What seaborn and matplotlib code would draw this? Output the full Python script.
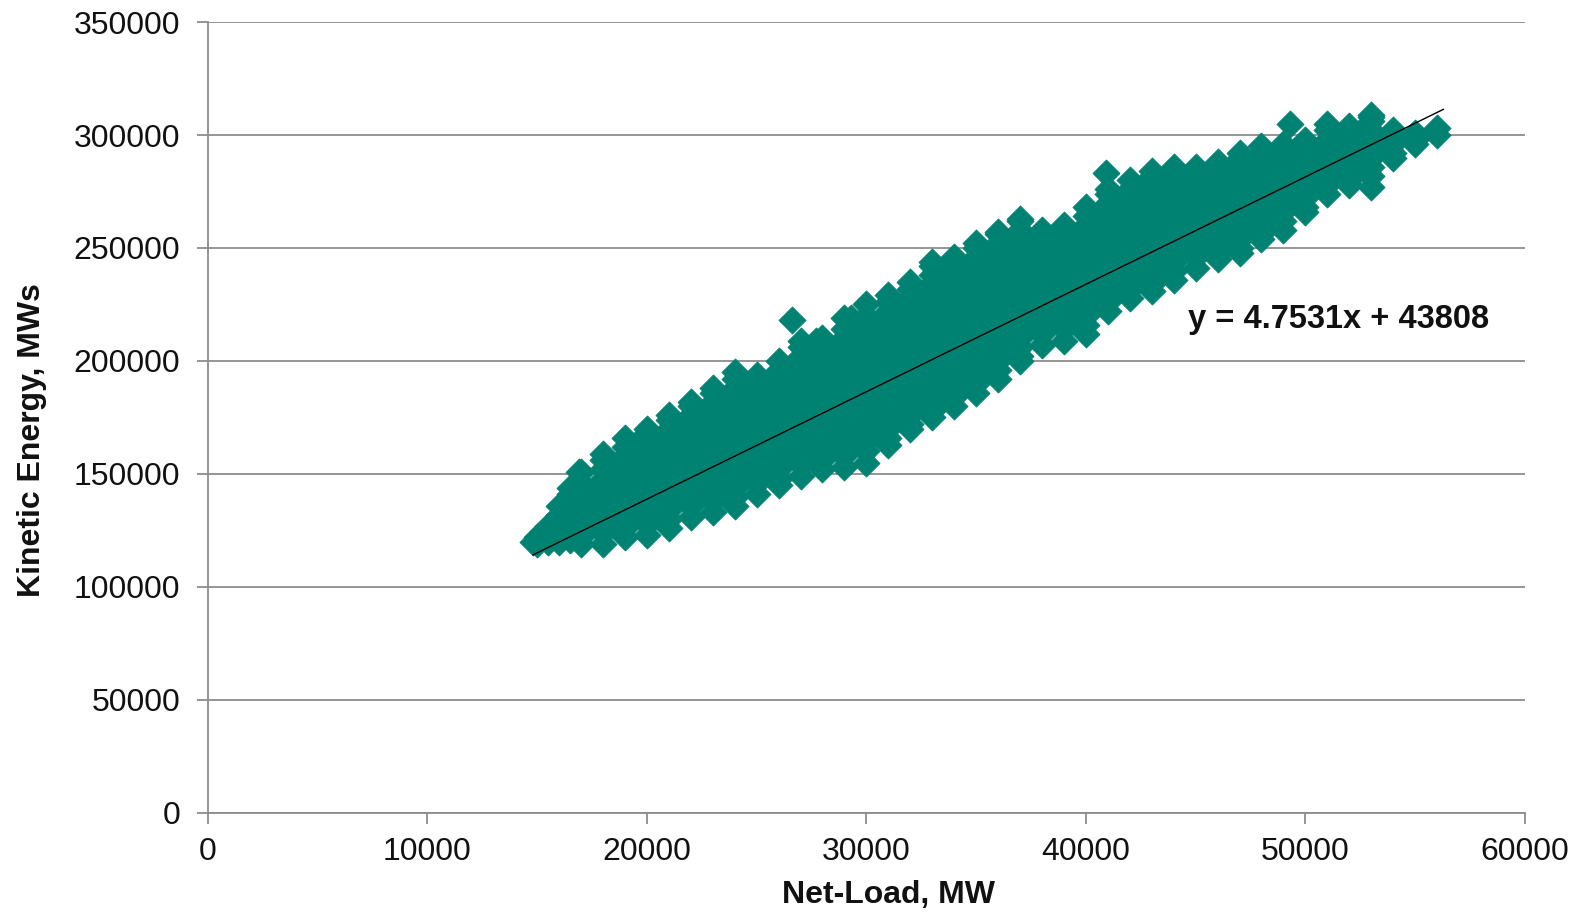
import matplotlib
matplotlib.use("Agg")
import matplotlib.pyplot as plt
import seaborn as sns
import pandas as pd

# ---- data ----
# Net-load columns (MW) and the kinetic-energy values (thousands of MWs) seen in each column
net_load_cols = [14800, 15000, 15500, 16000, 16500, 17000, 18000, 19000, 20000, 21000, 22000, 23000,
                 24000, 25000, 26000, 27000, 28000, 29000, 30000, 31000, 32000, 33000,
                 34000, 35000, 36000, 37000, 38000, 39000, 40000, 41000, 42000, 43000,
                 44000, 45000, 46000, 47000, 48000, 49000, 50000, 51000, 52000, 53000,
                 54000, 55000, 56000]
kinetic_cols_k = [
    [120],
    [119, 122],
    [120, 124, 127],
    [120, 124, 128, 132, 136],
    [121, 125, 129, 133, 137, 141, 144],
    [119, 122, 126, 130, 134, 138, 142, 146, 151],
    [119, 124, 128, 132, 136, 140, 144, 148, 152, 156, 159],
    [122, 126, 130, 134, 138, 142, 146, 150, 154, 158, 162, 166],
    [123, 128, 132, 136, 140, 144, 148, 152, 156, 160, 164, 168, 170],
    [126, 130, 134, 138, 142, 146, 150, 154, 158, 162, 166, 170, 174, 176],
    [131, 136, 140, 144, 148, 152, 156, 160, 164, 168, 172, 176, 180, 182],
    [133, 138, 142, 146, 150, 154, 158, 162, 166, 170, 174, 178, 182, 186, 188],
    [136, 140, 144, 148, 152, 156, 160, 164, 168, 172, 176, 180, 184, 188, 192, 195],
    [141, 146, 150, 154, 158, 162, 166, 170, 174, 178, 182, 186, 190, 194],
    [145, 148, 152, 156, 160, 164, 168, 172, 176, 180, 184, 188, 192, 196, 200],
    [149, 154, 158, 162, 166, 170, 174, 178, 182, 186, 190, 194, 198, 202, 206, 209],
    [152, 156, 160, 164, 168, 172, 176, 180, 184, 188, 192, 196, 200, 204, 208, 210],
    [153, 158, 162, 166, 170, 174, 178, 182, 186, 190, 194, 198, 202, 206, 210, 214, 219],
    [155, 160, 164, 168, 172, 176, 180, 184, 188, 192, 196, 200, 204, 208, 212, 216, 220, 225],
    [163, 166, 170, 174, 178, 182, 186, 190, 194, 198, 202, 206, 210, 214, 218, 222, 226, 229],
    [170, 172, 176, 180, 184, 188, 192, 196, 200, 204, 208, 212, 216, 220, 224, 228, 232, 235],
    [175, 178, 182, 186, 190, 194, 198, 202, 206, 210, 214, 218, 222, 226, 230, 234, 238, 242, 244],
    [180, 184, 188, 192, 196, 200, 204, 208, 212, 216, 220, 224, 228, 232, 236, 240, 244, 246],
    [186, 190, 194, 198, 202, 206, 210, 214, 218, 222, 226, 230, 234, 238, 242, 246, 250, 252],
    [192, 196, 200, 204, 208, 212, 216, 220, 224, 228, 232, 236, 240, 244, 248, 252, 256, 257],
    [200, 202, 206, 210, 214, 218, 222, 226, 230, 234, 238, 242, 246, 250, 254, 258, 262, 263],
    [207, 212, 216, 220, 224, 228, 232, 236, 240, 244, 248, 252, 256, 258],
    [209, 214, 218, 222, 226, 230, 234, 238, 242, 246, 250, 254, 258, 260],
    [212, 216, 220, 224, 228, 232, 236, 240, 244, 248, 252, 256, 260, 264, 268],
    [222, 226, 230, 234, 238, 242, 246, 250, 254, 258, 262, 266, 270, 274, 276],
    [228, 232, 236, 240, 244, 248, 252, 256, 260, 264, 268, 272, 276, 280],
    [231, 234, 238, 242, 246, 250, 254, 258, 262, 266, 270, 274, 278, 282, 284],
    [236, 240, 244, 248, 252, 256, 260, 264, 268, 272, 276, 280, 284, 286],
    [241, 246, 250, 254, 258, 262, 266, 270, 274, 278, 282, 286],
    [245, 248, 252, 256, 260, 264, 268, 272, 276, 280, 284, 288],
    [248, 250, 254, 258, 262, 266, 270, 274, 278, 282, 286, 290, 292],
    [254, 256, 260, 264, 268, 272, 276, 280, 284, 288, 292, 295],
    [258, 262, 266, 270, 274, 278, 282, 286, 290, 294, 296],
    [266, 268, 272, 276, 280, 284, 288, 292, 296, 298],
    [274, 278, 282, 286, 290, 294, 298, 302, 305],
    [278, 280, 284, 288, 292, 296, 300, 304],
    [277, 282, 286, 290, 294, 298, 302, 306, 308],
    [290, 292, 296, 300, 302],
    [296, 298, 301],
    [300, 303],
]
# isolated points standing out of the cloud
outlier_net_load = [16900, 26600, 27700, 29300, 40900, 49300, 53000]
outlier_kinetic_k = [151, 218, 209, 219, 283, 305, 309]

# trendline reported on the chart
trend_slope = 4.7531
trend_intercept = 43808
trend_label = "y = 4.7531x + 43808"

x_ticks = [0, 10000, 20000, 30000, 40000, 50000, 60000]
y_ticks = [0, 50000, 100000, 150000, 200000, 250000, 300000, 350000]
x_title = "Net-Load, MW"
y_title = "Kinetic Energy, MWs"

# ---- build table ----
rows = []
for xv, ys in zip(net_load_cols, kinetic_cols_k):
    for yv in ys:
        rows.append((xv, yv * 1000))
for xv, yv in zip(outlier_net_load, outlier_kinetic_k):
    rows.append((xv, yv * 1000))
df = pd.DataFrame(rows, columns=["net_load", "kinetic"])

sns.set_theme(style="white")
plt.rcParams["font.family"] = ["Liberation Sans", "DejaVu Sans"]

fig = plt.figure(figsize=(15.8, 9.21), dpi=100)
ax = fig.add_axes([0.1316, 0.1173, 0.8335, 0.8588])

ax.set_axisbelow(True)
ax.grid(axis="y", color="#8c8c8c", linewidth=1.3)
ax.grid(axis="x", visible=False)

teal = "#008272"
sns.scatterplot(data=df, x="net_load", y="kinetic", marker="D", s=190,
                color=teal, edgecolor=teal, linewidth=0.6, ax=ax, legend=False, zorder=3)

xmin, xmax = df["net_load"].min(), df["net_load"].max() + 300
line_df = pd.DataFrame({"x": [xmin, xmax],
                        "y": [trend_slope * xmin + trend_intercept, trend_slope * xmax + trend_intercept]})
sns.lineplot(data=line_df, x="x", y="y", color="black", linewidth=1.0, ax=ax, zorder=4)

txt_color = "#111111"
ax.text(44650, 218500, trend_label, fontsize=23.5, fontweight="bold", ha="left", va="center", color=txt_color)

ax.set_xlim(0, 60000)
ax.set_ylim(0, 350000)
ax.set_xticks(x_ticks)
ax.set_yticks(y_ticks)
ax.set_xticklabels([str(t) for t in x_ticks])
ax.set_yticklabels([str(t) for t in y_ticks])
ax.tick_params(axis="both", labelsize=23, colors="#8c8c8c", labelcolor=txt_color,
               length=8, width=1.3, direction="out")
ax.tick_params(axis="x", pad=9, bottom=True)
ax.tick_params(axis="y", pad=12, left=True)

for s in ["top", "right"]:
    ax.spines[s].set_visible(False)
for s in ["left", "bottom"]:
    ax.spines[s].set_color("#8c8c8c")
    ax.spines[s].set_linewidth(1.3)

ax.set_xlabel(x_title, fontsize=23, fontweight="bold", color=txt_color, labelpad=10)
ax.set_ylabel(y_title, fontsize=23, fontweight="bold", color=txt_color, labelpad=22)
ax.xaxis.set_label_coords(0.517, -0.085)
ax.yaxis.set_label_coords(-0.1225, 0.472)

fig.savefig("out.png", dpi=100)
